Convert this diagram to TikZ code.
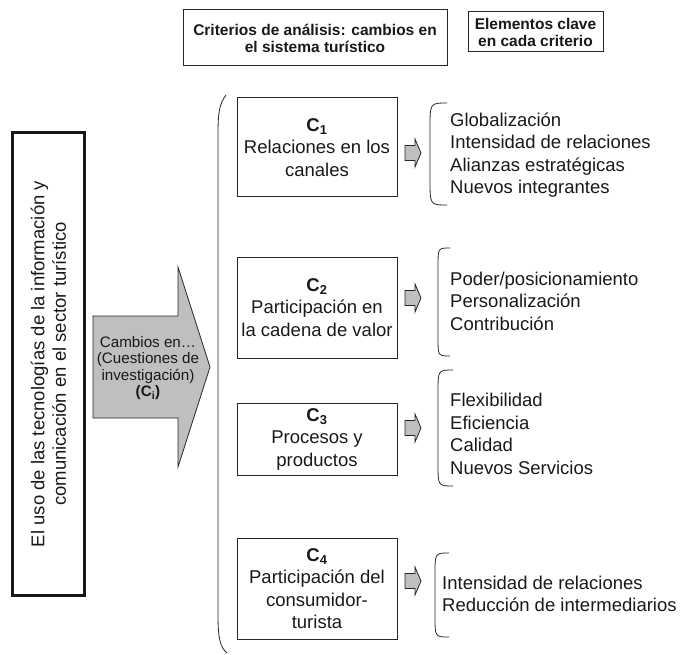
\documentclass[tikz,border=0pt]{standalone}
\usepackage{fontspec}
\setmainfont{Liberation Sans}
\usetikzlibrary{positioning, calc}

\begin{document}
\begin{tikzpicture}[
    % Un punto por pixel, eje y hacia abajo
    x=1pt, y=-1pt,
    % Texto general
    every node/.style={text=black!90, font=\fontsize{18.5}{22.5}\selectfont},
    % Cajas de titulo (arriba)
    titulo/.style={draw=black!85, line width=1pt, align=center, inner sep=0pt,
        font=\bfseries\fontsize{15.5}{17}\selectfont},
    % Cajas de criterios C1..C4
    criterio/.style={draw=black!85, line width=1pt, minimum width=160pt, inner sep=0pt, align=center},
    % Listas de elementos clave
    lista/.style={anchor=west, align=left, inner sep=0pt},
    % Llaves y flechas
    llave/.style={draw=black!85, line width=0.8pt},
    flecha/.style={draw=black!85, fill=black!25, line width=0.8pt}
]
\useasboundingbox (0,0) rectangle (680,655);

% Titulos
\node[titulo, minimum width=264pt, minimum height=56pt] (tit1) at (315,38)
    {Criterios de análisis: cambios en\\el sistema turístico};
\node[titulo, minimum width=135pt, minimum height=40pt] (tit2) at (535.5,32)
    {Elementos clave\\en cada criterio};

% Caja vertical de la izquierda
\node[draw=black!90, line width=3pt, rotate=90, minimum width=462pt, minimum height=72pt,
      inner sep=0pt, align=center, font=\fontsize{18.5}{21.5}\selectfont] (uso) at (48.5,364)
    {El uso de las tecnologías de la información y\\comunicación en el sector turístico};

% Flecha grande
\draw[flecha] (93,316) -- (178,316) -- (178,267) -- (210,367) -- (178,467)
    -- (178,418) -- (93,418) -- cycle;
\node[align=center, inner sep=0pt, font=\fontsize{15.2}{16.6}\selectfont] (cambios) at (148,368)
    {Cambios en…\\(Cuestiones de\\investigación)\\\textbf{(C\textsubscript{i})}};

% Llave grande
\draw[llave] (226,95) .. controls (219,104) and (218,114) .. (218,135)
    -- (218,615) .. controls (218,638) and (220,647) .. (227,653);

% Criterios
\node[criterio, minimum height=99pt] (c1) at (317,147.5)
    {\textbf{C\textsubscript{1}}\\Relaciones en los\\canales};
\node[criterio, minimum height=101pt] (c2) at (317,307.5)
    {\textbf{C\textsubscript{2}}\\Participación en\\la cadena de valor};
\node[criterio, minimum height=72pt] (c3) at (317,439)
    {\textbf{C\textsubscript{3}}\\Procesos y\\productos};
\node[criterio, minimum height=101pt] (c4) at (317,588.5)
    {\textbf{C\textsubscript{4}}\\Participación del\\consumidor-\\turista};

% Flechas pequenas
\foreach \y in {153,298,428,581}
    \draw[flecha] (405,\y-7.5) -- (415,\y-7.5) -- (415,\y-14) -- (421,\y)
        -- (415,\y+14) -- (415,\y+7.5) -- (405,\y+7.5) -- cycle;

% Llaves pequenas
\foreach \xl/\w/\t/\b in {430/17/103/205, 438/12/248/356, 438/15/370/486, 435/14/553/637}
    \draw[llave] (\xl+\w,\t) .. controls (\xl,\t) .. (\xl,\t+1.5*\w)
        -- (\xl,\b-1.5*\w) .. controls (\xl,\b) .. (\xl+\w,\b);

% Elementos clave
\node[lista] (e1) at (450,155)
    {Globalización\\Intensidad de relaciones\\Alianzas estratégicas\\Nuevos integrantes};
\node[lista] (e2) at (450,301)
    {Poder/posicionamiento\\Personalización\\Contribución};
\node[lista] (e3) at (450,434)
    {Flexibilidad\\Eficiencia\\Calidad\\Nuevos Servicios};
\node[lista] (e4) at (442,594)
    {Intensidad de relaciones\\Reducción de intermediarios};

\end{tikzpicture}
\end{document}
